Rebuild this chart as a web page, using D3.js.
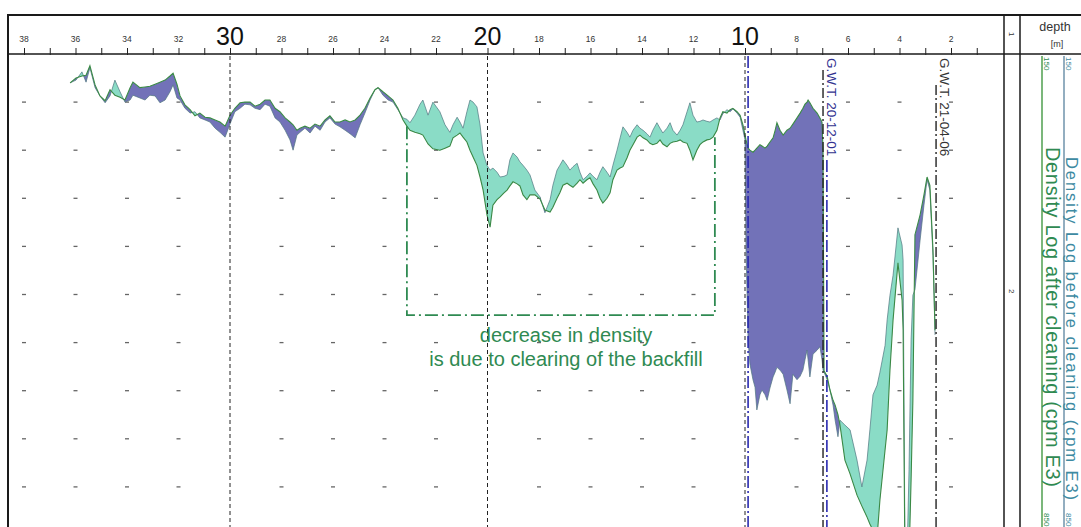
<!DOCTYPE html>
<html>
<head>
<meta charset="utf-8">
<script src="https://cdn.jsdelivr.net/npm/d3@7/dist/d3.min.js"></script>
<style>
  body { margin: 0; background: #fff; }
  svg { display: block; font-family: "Liberation Sans", Arial, sans-serif; }
</style>
</head>
<body>
<div id="chart"></div>
<script>
// depth along the log (m) and the two density logs (cpm E3)
const depthM = [
  36.21, 35.98, 35.75, 35.59, 35.44, 35.24, 35.05, 34.85, 34.66, 34.47,
  34.27, 34.08, 33.88, 33.77, 33.50, 33.30, 33.11, 32.91, 32.72, 32.52,
  32.33, 32.21, 32.06, 31.94, 31.75, 31.55, 31.36, 31.17, 30.97, 30.78,
  30.58, 30.39, 30.19, 30.00, 29.81, 29.61, 29.42, 29.22, 29.03, 28.83,
  28.64, 28.45, 28.25, 28.06, 27.86, 27.67, 27.55, 27.40, 27.28, 27.09,
  26.89, 26.70, 26.50, 26.31, 26.12, 25.92, 25.73, 25.53, 25.34, 25.14,
  24.95, 24.76, 24.56, 24.37, 24.25, 24.06, 23.86, 23.67, 23.48, 23.28,
  23.13, 23.01,
  22.82, 22.62, 22.51, 22.31, 22.12, 21.85, 21.65, 21.46, 21.34, 21.18,
  21.07, 20.95, 20.80, 20.68, 20.56, 20.41, 20.29, 20.17, 20.02, 19.90,
  19.79, 19.63, 19.51, 19.36, 19.24, 19.13, 19.01, 18.85, 18.74, 18.62,
  18.47, 18.35, 18.16, 17.96, 17.77, 17.57, 17.46, 17.30, 17.19, 17.07,
  16.91, 16.80, 16.68, 16.52, 16.41, 16.29, 16.14, 16.02, 15.90, 15.75,
  15.63, 15.52, 15.36, 15.24, 15.13, 14.97, 14.85, 14.74, 14.58, 14.47,
  14.35, 14.19, 14.08, 13.96, 13.81, 13.69, 13.58, 13.42, 13.30, 13.19,
  13.03, 12.91, 12.80, 12.64, 12.52, 12.41, 12.25, 12.14, 12.02, 11.87,
  11.75, 11.63, 11.48, 11.36, 11.24, 11.09, 10.97, 10.86, 10.70, 10.58,
  10.47, 10.31, 10.19, 10.08, 10.00,
  9.96, 9.88, 9.81, 9.69, 9.61, 9.54, 9.42, 9.34, 9.22, 9.14,
  9.03, 8.91, 8.83, 8.76, 8.64, 8.52, 8.37, 8.25, 8.14, 7.98,
  7.86, 7.75, 7.67, 7.59, 7.55, 7.48, 7.36, 7.20, 7.09, 7.01,
  6.97, 6.93, 6.81, 6.70, 6.58, 6.50, 6.39, 6.31, 6.12, 5.92,
  5.65, 5.46, 5.26, 5.15, 5.03, 4.87, 4.76, 4.56, 4.48, 4.37,
  4.25, 4.06, 3.90, 3.86, 3.79, 3.71, 3.63, 3.55, 3.48, 3.40,
  3.20, 3.05, 2.93, 2.82, 2.70, 2.62
];

const beforeCpm = [
  192, 188, 176, 191, 170, 199, 211, 221, 211, 188,
  205, 220, 217, 210, 214, 217, 210, 211, 221, 217,
  205, 195, 214, 217, 229, 236, 234, 243, 246, 249,
  258, 264, 271, 252, 234, 229, 223, 224, 229, 231,
  223, 226, 243, 249, 261, 275, 290, 268, 264, 258,
  265, 255, 261, 249, 243, 252, 256, 261, 266, 272,
  253, 236, 217, 202, 199, 210, 217, 220, 231, 243,
  245, 250,
  239, 223, 217, 239, 220, 234, 253, 264, 253, 242,
  249, 258, 234, 217, 220, 227, 253, 294, 312, 319,
  316, 322, 329, 328, 326, 304, 294, 300, 307, 312,
  319, 326, 348, 358, 381, 362, 341, 319, 312, 304,
  312, 319, 314, 309, 322, 333, 328, 323, 328, 333,
  322, 314, 322, 329, 312, 290, 272, 256, 264, 271,
  261, 253, 258, 261, 266, 271, 261, 250, 258, 265,
  258, 250, 261, 268, 261, 253, 234, 221, 239, 249,
  248, 246, 248, 249, 246, 243, 246, 237, 231, 234,
  230, 236, 242, 261, 275,
  435, 566, 601, 624, 635, 668, 646, 639, 646, 654,
  636, 620, 613, 606, 610, 616, 639, 659, 616, 624,
  619, 610, 595, 581, 595, 620, 587, 581, 576, 595,
  610, 613, 624, 639, 661, 683, 707, 683, 690, 697,
  741, 780, 741, 697, 646, 632, 613, 574, 537, 501,
  472, 403, 428, 450, 857, 886, 755, 566, 501, 493,
  421, 370, 333, 348, 443, 559
];

const afterCpm = [
  192, 185, 182, 181, 167, 195, 211, 218, 202, 210,
  213, 217, 199, 191, 199, 198, 197, 194, 191, 188,
  182, 178, 194, 211, 224, 231, 240, 236, 242, 243,
  246, 249, 255, 239, 229, 221, 220, 220, 226, 223,
  217, 217, 229, 234, 243, 249, 253, 261, 258, 255,
  258, 252, 255, 246, 240, 249, 249, 246, 249, 246,
  239, 229, 214, 202, 199, 205, 211, 217, 229, 246,
  255, 261,
  264, 266, 268, 281, 288, 290, 287, 284, 272, 268,
  265, 271, 278, 290, 300, 312, 329, 348, 384, 402,
  370, 362, 358, 352, 348, 342, 336, 339, 342, 355,
  362, 355, 355, 361, 377, 380, 373, 360, 352, 341,
  338, 341, 344, 338, 333, 338, 333, 330, 339, 348,
  360, 367, 360, 352, 333, 319, 316, 314, 301, 290,
  282, 271, 268, 272, 275, 280, 282, 280, 275, 281,
  285, 280, 278, 277, 275, 278, 280, 290, 304, 290,
  282, 278, 275, 274, 271, 261, 243, 234, 236, 231,
  229, 234, 239, 253, 268,
  275, 287, 290, 293, 290, 287, 282, 284, 287, 284,
  278, 272, 261, 250, 261, 268, 261, 258, 252, 243,
  236, 229, 223, 220, 217, 221, 229, 236, 243, 249,
  290, 611, 619, 639, 654, 661, 675, 690, 741, 761,
  792, 808, 824, 834, 843, 853, 799, 726, 697, 610,
  537, 454, 508, 552, 886, 886, 886, 770, 654, 413,
  384, 355, 329, 341, 435, 552
];

// top scale
const tickDepths = d3.range(1, 39);
const minorLabels = [38, 36, 34, 32, 28, 26, 24, 22, 18, 16, 14, 12, 8, 6, 4, 2];
const majorLabels = [30, 20, 10];

// background marks
const markDepths = [38, 36, 34, 32, 28, 26, 24, 22, 18, 16, 14, 12, 8, 6, 4, 2];
const markValues = [220, 290, 360, 430, 500, 570, 640, 710, 780];

// annotations
const waterTables = [
  {depth: 6.97, label: "G.W.T. 20-12-01"},
  {depth: 2.58, label: "G.W.T. 21-04-06"}
];
const cleanedZone = {from: 23.13, to: 11.17, bottom: 530, topFrom: 255, topTo: 271};
const noteLines = ["decrease in density", "is due to clearing of the backfill"];
const scaleEnds = [150, 850];

const W = 1081, H = 527;
const COLORS = {
    before: "#7272b8",
    after: "#8adcc6",
    afterLine: "#3a8a45",
    beforeLine: "#4f7580",
    green: "#2f8a52",
    blueText: "#3d8aa2",
    gwt: "#32328f"
};

const rows = depthM.map((d, i) => ({depth: d, before: beforeCpm[i], after: afterCpm[i]}));

const svg = d3.select("#chart").append("svg")
    .attr("width", W)
    .attr("height", H);

const x = d3.scaleLinear().domain([38, 0]).range([24, 1002.5]);
const y = d3.scaleLinear().domain([150, 850]).range([54, 535]);

const defs = svg.append("defs");

defs.append("clipPath").attr("id", "plot")
    .append("rect").attr("x", 9).attr("y", 55).attr("width", 994).attr("height", 500);

// region above / below the "after" log, used to colour the gap between the logs
const aboveAfter = d3.area().x(d => x(d.depth)).y0(0).y1(d => y(d.after));
const belowAfter = d3.area().x(d => x(d.depth)).y0(d => y(d.after)).y1(H + 50);

defs.append("clipPath").attr("id", "clip-above").append("path").attr("d", aboveAfter(rows));
defs.append("clipPath").attr("id", "clip-below").append("path").attr("d", belowAfter(rows));

const plot = svg.append("g").attr("clip-path", "url(#plot)");

// little dashes of the background grid
markDepths.forEach(function(d) {
    plot.selectAll(null)
        .data(markValues)
        .enter().append("line")
        .attr("x1", x(d) - 2).attr("x2", x(d) + 2)
        .attr("y1", v => y(v)).attr("y2", v => y(v))
        .attr("stroke", "#666")
        .attr("stroke-width", 1.3);
});

const between = d3.area()
    .x(d => x(d.depth))
    .y0(d => y(d.before))
    .y1(d => y(d.after));

plot.append("g").attr("clip-path", "url(#clip-above)")
    .append("path").attr("d", between(rows)).attr("fill", COLORS.after);

plot.append("g").attr("clip-path", "url(#clip-below)")
    .append("path").attr("d", between(rows)).attr("fill", COLORS.before);

plot.append("path")
    .attr("d", d3.line().x(d => x(d.depth)).y(d => y(d.before))(rows))
    .attr("fill", "none")
    .attr("stroke", COLORS.beforeLine)
    .attr("stroke-width", 0.7);

plot.append("path")
    .attr("d", d3.line().x(d => x(d.depth)).y(d => y(d.after))(rows))
    .attr("fill", "none")
    .attr("stroke", COLORS.afterLine)
    .attr("stroke-width", 1.1);

// depth grid lines
plot.selectAll(".grid")
    .data(majorLabels)
    .enter().append("line")
    .attr("x1", d => x(d)).attr("x2", d => x(d))
    .attr("y1", 56).attr("y2", H)
    .attr("stroke", "#222")
    .attr("stroke-width", 1)
    .attr("stroke-dasharray", "4,3");

plot.append("line")
    .attr("x1", x(9.88)).attr("x2", x(9.88))
    .attr("y1", 56).attr("y2", H)
    .attr("stroke", "#2a2ab0")
    .attr("stroke-width", 1.6)
    .attr("stroke-dasharray", "12,3,2,3");

// ground water tables
plot.append("line")
    .attr("x1", x(6.82)).attr("x2", x(6.82))
    .attr("y1", 160).attr("y2", H)
    .attr("stroke", "#2a2ab0")
    .attr("stroke-width", 1.6)
    .attr("stroke-dasharray", "12,3,2,3");

waterTables.forEach(function(w, i) {
    plot.append("line")
        .attr("x1", x(w.depth)).attr("x2", x(w.depth))
        .attr("y1", i === 0 ? 70 : 85).attr("y2", H)
        .attr("stroke", "#222")
        .attr("stroke-width", 1.4)
        .attr("stroke-dasharray", "10,3,2,3");

    svg.append("text")
        .attr("transform", "translate(" + (x(w.depth) + 4) + ",58) rotate(90)")
        .attr("font-size", 13.5)
        .attr("fill", i === 0 ? COLORS.gwt : "#333")
        .text(w.label);
});

// the cleaned section
const zone = [
    [cleanedZone.from, cleanedZone.topFrom],
    [cleanedZone.from, cleanedZone.bottom],
    [cleanedZone.to, cleanedZone.bottom],
    [cleanedZone.to, cleanedZone.topTo]
];
plot.append("path")
    .attr("d", d3.line().x(d => x(d[0])).y(d => y(d[1]))(zone))
    .attr("fill", "none")
    .attr("stroke", COLORS.green)
    .attr("stroke-width", 1.8)
    .attr("stroke-dasharray", "13,4,2,4");

svg.selectAll(".note")
    .data(noteLines)
    .enter().append("text")
    .attr("x", 566)
    .attr("y", (d, i) => 342 + i * 24)
    .attr("text-anchor", "middle")
    .attr("font-size", 20)
    .attr("fill", COLORS.green)
    .text(d => d);

// frame
const frame = svg.append("g").attr("stroke", "#1a1a1a");
frame.append("line").attr("x1", 8).attr("x2", W).attr("y1", 15).attr("y2", 15).attr("stroke-width", 2);
frame.append("line").attr("x1", 8).attr("x2", 8).attr("y1", 14).attr("y2", H).attr("stroke-width", 2);
frame.append("line").attr("x1", 8).attr("x2", W).attr("y1", 54).attr("y2", 54).attr("stroke-width", 1.6);
frame.append("line").attr("x1", 1004).attr("x2", 1004).attr("y1", 15).attr("y2", H).attr("stroke-width", 1.5);
frame.append("line").attr("x1", 1020).attr("x2", 1020).attr("y1", 15).attr("y2", H).attr("stroke-width", 1.5);

// top axis
const axis = svg.append("g")
    .attr("transform", "translate(0,54)")
    .call(d3.axisTop(x).tickValues(tickDepths).tickSize(6).tickFormat(""));
axis.select(".domain").remove();
axis.selectAll(".tick line").attr("stroke", "#222").attr("y2", -6).attr("y1", 1);

svg.selectAll(".minor-label")
    .data(minorLabels)
    .enter().append("text")
    .attr("x", d => x(d))
    .attr("y", 42)
    .attr("text-anchor", "middle")
    .attr("font-size", 8.5)
    .attr("fill", "#333")
    .text(d => d);

svg.selectAll(".major-label")
    .data(majorLabels)
    .enter().append("text")
    .attr("x", d => x(d))
    .attr("y", 45)
    .attr("text-anchor", "middle")
    .attr("font-size", 25)
    .attr("fill", "#111")
    .text(d => d);

// narrow track column
[["1", 32], ["2", 289]].forEach(function(t) {
    svg.append("text")
        .attr("transform", "translate(1009," + t[1] + ") rotate(90)")
        .attr("font-size", 8)
        .attr("fill", "#333")
        .text(t[0]);
});

// depth / legend column
svg.append("text").attr("x", 1055).attr("y", 31).attr("text-anchor", "middle")
    .attr("font-size", 12.5).attr("fill", "#333").text("depth");
svg.append("text").attr("x", 1057).attr("y", 47).attr("text-anchor", "middle")
    .attr("font-size", 9).attr("fill", "#333").text("[m]");

const legend = [
    {x: 1042, color: COLORS.green, bar: "#4f9f4f", label: "Density Log after cleaning (cpm E3)",
     start: 147, length: 340, size: 20, shift: 3.5},
    {x: 1064, color: COLORS.blueText, bar: "#6f93ab", label: "Density Log before cleaning (cpm E3)",
     start: 157, length: 343, size: 16.5, shift: 1.5}
];

legend.forEach(function(l) {
    svg.append("line")
        .attr("x1", l.x).attr("x2", l.x)
        .attr("y1", 56).attr("y2", H)
        .attr("stroke", l.bar)
        .attr("stroke-width", 1.5);

    svg.selectAll(null)
        .data(scaleEnds)
        .enter().append("text")
        .attr("transform", (d, i) => "translate(" + (l.x + 2) + "," + (i === 0 ? 57 : 513) + ") rotate(90)")
        .attr("font-size", 8)
        .attr("fill", l.color)
        .text(d => d);

    svg.append("text")
        .attr("transform", "translate(" + (l.x + l.shift) + "," + l.start + ") rotate(90)")
        .attr("font-size", l.size)
        .attr("textLength", l.length)
        .attr("lengthAdjust", "spacing")
        .attr("fill", l.color)
        .text(l.label);
});
</script>
</body>
</html>
